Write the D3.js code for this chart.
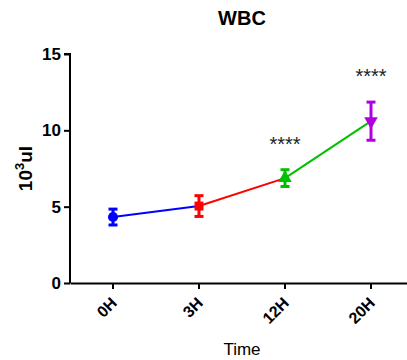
<!DOCTYPE html>
<html>
<head>
<meta charset="utf-8">
<script src="https://cdn.jsdelivr.net/npm/d3@7"></script>
<style>
  body { margin: 0; background: #fff; }
  svg { font-family: Arial, "Liberation Sans", sans-serif; }
</style>
</head>
<body>
<svg id="chart"></svg>
<script>
// data
const timepoints = ['0H', '3H', '12H', '20H'];
const means = [4.32, 5.04, 6.87, 10.6];
const errors = [0.52, 0.68, 0.55, 1.25];
const colors = ['#0000ff', '#ff0000', '#00c000', '#b000e0'];
const shapes = [d3.symbolCircle, d3.symbolSquare, d3.symbolTriangle, d3.symbolTriangle];
const stars = ['', '', '****', '****'];
const yTicks = [0, 5, 10, 15];

const width = 407, height = 360;
const margin = {top: 54, right: -7, bottom: 77, left: 70};

const svg = d3.select('#chart')
    .attr('width', width)
    .attr('height', height);

const x = d3.scaleBand()
    .domain(timepoints)
    .range([margin.left, width - margin.right]);

const y = d3.scaleLinear()
    .domain([0, 15])
    .range([height - margin.bottom, margin.top]);

const cx = d => x(d) + x.bandwidth() / 2;

// title
svg.append('text')
    .attr('x', (margin.left + width - margin.right) / 2)
    .attr('y', 25)
    .attr('text-anchor', 'middle')
    .style('font-size', '20px')
    .style('font-weight', 'bold')
    .text('WBC');

// y axis
const yAxisG = svg.append('g')
    .attr('transform', `translate(${margin.left},0)`)
    .call(d3.axisLeft(y).tickValues(yTicks).tickSize(6).tickPadding(3));
yAxisG.selectAll('path, line').attr('stroke', '#000').attr('stroke-width', 2);
yAxisG.select('.domain').attr('d', `M-6,${y(15)}H0V${y(0)}`);
yAxisG.selectAll('text')
    .style('font-size', '17px')
    .style('font-weight', 'bold')
    .attr('fill', '#000');

// x axis
const xAxisG = svg.append('g')
    .attr('transform', `translate(0,${y(0)})`)
    .call(d3.axisBottom(x).tickSize(6).tickSizeOuter(0));
xAxisG.selectAll('path, line').attr('stroke', '#000').attr('stroke-width', 2);
xAxisG.selectAll('text')
    .style('font-size', '16px')
    .style('font-weight', 'bold')
    .attr('fill', '#000')
    .attr('text-anchor', 'end')
    .attr('x', 0).attr('y', 0).attr('dy', 0)
    .attr('transform', 'translate(5,21) rotate(-45)');

// axis titles
svg.append('text')
    .attr('transform', `translate(32,${(y(0) + y(15)) / 2}) rotate(-90)`)
    .attr('text-anchor', 'middle')
    .style('font-size', '19px')
    .style('font-weight', 'bold')
    .html('10<tspan dy="-8" font-size="13px">3</tspan><tspan dy="8">ul</tspan>');

svg.append('text')
    .attr('x', (margin.left + width - margin.right) / 2)
    .attr('y', 355)
    .attr('text-anchor', 'middle')
    .style('font-size', '17px')
    .text('Time');

// connecting line segments, coloured by the starting point
const segs = d3.range(timepoints.length - 1).map(i => ({i}));
svg.selectAll('.seg')
    .data(segs)
    .join('line')
    .attr('class', 'seg')
    .attr('x1', d => cx(timepoints[d.i]))
    .attr('y1', d => y(means[d.i]))
    .attr('x2', d => cx(timepoints[d.i + 1]))
    .attr('y2', d => y(means[d.i + 1]))
    .attr('stroke', d => colors[d.i])
    .attr('stroke-width', 2);

// error bars
const pts = timepoints.map((t, i) => ({t, i, m: means[i], e: errors[i]}));
const eb = svg.selectAll('.eb')
    .data(pts)
    .join('g')
    .attr('class', 'eb')
    .attr('stroke', d => colors[d.i])
    .attr('stroke-width', 3);
eb.append('line')
    .attr('x1', d => cx(d.t)).attr('x2', d => cx(d.t))
    .attr('y1', d => y(d.m - d.e)).attr('y2', d => y(d.m + d.e));
eb.append('line')
    .attr('x1', d => cx(d.t) - 4.5).attr('x2', d => cx(d.t) + 4.5)
    .attr('y1', d => y(d.m + d.e)).attr('y2', d => y(d.m + d.e));
eb.append('line')
    .attr('x1', d => cx(d.t) - 4.5).attr('x2', d => cx(d.t) + 4.5)
    .attr('y1', d => y(d.m - d.e)).attr('y2', d => y(d.m - d.e));

// markers
svg.selectAll('.pt')
    .data(pts)
    .join('path')
    .attr('class', 'pt')
    .attr('d', d => d3.symbol().type(shapes[d.i]).size(80)())
    .attr('transform', d => `translate(${cx(d.t)},${y(d.m)})` + (d.i === 3 ? ' rotate(180)' : ''))
    .attr('fill', d => colors[d.i]);

// significance stars
svg.selectAll('.star')
    .data(pts.filter(d => stars[d.i]))
    .join('text')
    .attr('class', 'star')
    .attr('x', d => cx(d.t))
    .attr('y', d => y(d.m + d.e) - 19)
    .attr('text-anchor', 'middle')
    .style('font-size', '20px')
    .attr('fill', '#222')
    .text(d => stars[d.i]);
</script>
</body>
</html>
